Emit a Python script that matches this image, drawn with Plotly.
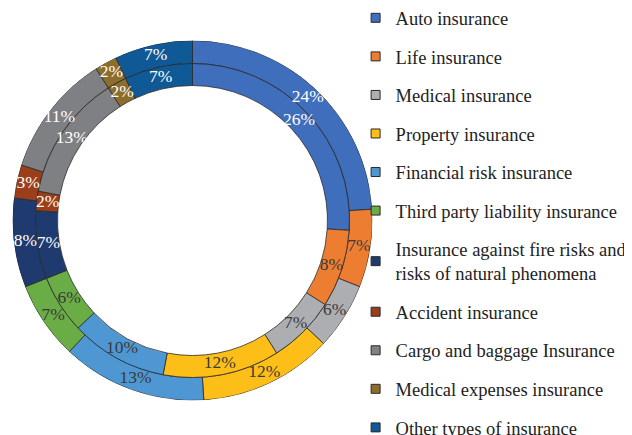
import plotly.graph_objects as go

categories = ["Auto insurance", "Life insurance", "Medical insurance", "Property insurance",
              "Financial risk insurance", "Third party liability insurance",
              "Insurance against fire risks and<br>risks of natural phenomena",
              "Accident insurance", "Cargo and baggage Insurance",
              "Medical expenses insurance", "Other types of insurance"]
outer_values = [24, 7, 6, 12, 13, 7, 8, 3, 11, 2, 7]
inner_values = [26, 8, 7, 12, 10, 6, 7, 2, 13, 2, 7]
colors = ["#3F6EBC", "#ED7D31", "#ADAEB1", "#FDBF17", "#4F97D2", "#6AAD46",
          "#1F3A6E", "#9B3F1A", "#7F8083", "#8C6D2C", "#0F5A96"]
text_colors = ["white", "#3a3a3a", "#3a3a3a", "#3a3a3a", "#3a3a3a", "#3a3a3a",
               "white", "white", "white", "white", "white"]

W, H = 632, 435
cx, cy = 184.5, 212.5
r_out, r_mid, r_in = 180, 157, 135

def dom(r):
    return dict(x=[(cx - r) / W, (cx + r) / W], y=[(H - cy - r) / H, (H - cy + r) / H])

def mids(vals):
    out, acc = [], 0
    for v in vals:
        out.append((acc + v / 2) * 360 / sum(vals))
        acc += v
    return out

def widths(vals):
    return [v * 360 / sum(vals) for v in vals]

font = "Liberation Serif"
fig = go.Figure()
rings = [(outer_values, r_mid, r_out), (inner_values, r_in, r_mid)]
for vals, r0, r1 in rings:
    fig.add_trace(go.Barpolar(
        theta=mids(vals), width=widths(vals), base=[r0] * len(vals), r=[r1 - r0] * len(vals),
        marker=dict(color=colors, line=dict(color="#2a2a2a", width=0.8)),
        customdata=categories, hovertemplate="%{customdata}<extra></extra>",
        showlegend=False))
for vals, r0, r1 in rings:
    fig.add_trace(go.Scatterpolar(
        r=[(r0 + r1) / 2] * len(vals), theta=mids(vals), mode="text",
        text=[f"{v}%" for v in vals],
        textfont=dict(family=font, size=17.5, color=text_colors),
        showlegend=False, hoverinfo="skip"))

for i, (c, col) in enumerate(zip(categories, colors)):
    fig.add_trace(go.Scatter(x=[None], y=[None], mode="markers", name=c, legendgroup=str(i),
                             marker=dict(symbol="square", size=9, color=col,
                                         line=dict(color="#2a2a2a", width=1))))

fig.update_layout(
    width=W, height=H, margin=dict(l=0, r=0, t=0, b=0, autoexpand=False),
    paper_bgcolor="white", plot_bgcolor="white",
    font=dict(family=font),
    xaxis=dict(visible=False), yaxis=dict(visible=False),
    polar=dict(domain=dom(r_out), bgcolor="rgba(0,0,0,0)", barmode="overlay",
               radialaxis=dict(visible=False, range=[0, r_out]),
               angularaxis=dict(visible=False, rotation=90, direction="clockwise")),
    legend=dict(x=0.55, y=1.02, yanchor="top", xanchor="left", maxheight=470,
                font=dict(family=font, size=18.5, color="#222"),
                tracegroupgap=11.5, itemwidth=30, bgcolor="rgba(0,0,0,0)"),
)
fig.write_html("out.html")
